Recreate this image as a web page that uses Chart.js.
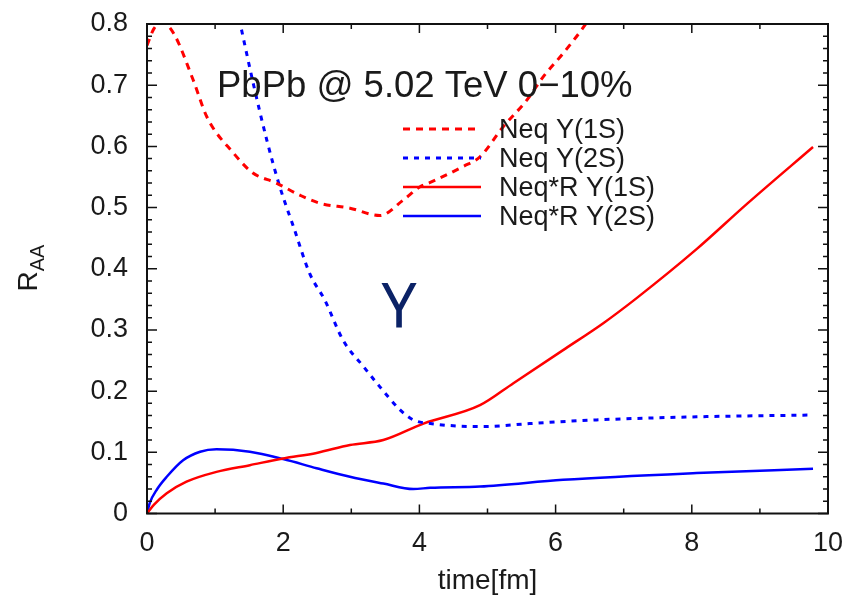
<!DOCTYPE html>
<html>
<head>
<meta charset="utf-8">
<script src="https://cdn.jsdelivr.net/npm/chart.js@4.4.1/dist/chart.umd.min.js"></script>
<style>
  html, body { margin: 0; padding: 0; background: #fff; }
  canvas { display: block; }
</style>
</head>
<body>
<canvas id="grafico" width="860" height="600"></canvas>
<script>
// Datos (tiempo en fm, R_AA)
const etiquetas = ["Neq Y(1S)", "Neq Y(2S)", "Neq*R Y(1S)", "Neq*R Y(2S)"];

const neq1sX = [0, 0.1, 0.22, 0.39, 0.68, 0.88, 1.27, 1.55, 1.9, 2.25, 2.54, 2.98, 3.42, 3.76, 4.01, 4.16, 4.64, 4.89, 5.23, 5.58, 5.82, 6.11, 6.43, 6.5];
const neq1sY = [0.765, 0.792, 0.803, 0.785, 0.708, 0.648, 0.589, 0.557, 0.54, 0.52, 0.507, 0.499, 0.487, 0.512, 0.534, 0.541, 0.567, 0.583, 0.632, 0.676, 0.714, 0.752, 0.798, 0.81];

const neq2sX = [1.32, 1.37, 1.56, 1.76, 1.95, 2.15, 2.39, 2.61, 2.88, 3.18, 3.42, 3.72, 3.91, 4.16, 4.94, 5.62, 6.6, 8.07, 9.78];
const neq2sY = [0.826, 0.8, 0.703, 0.61, 0.534, 0.469, 0.392, 0.349, 0.283, 0.24, 0.207, 0.169, 0.153, 0.147, 0.142, 0.147, 0.153, 0.158, 0.161];

const neqR1sX = [0, 0.1, 0.29, 0.58, 1.02, 1.51, 2.0, 2.49, 2.98, 3.47, 4.06, 4.89, 5.38, 6.11, 6.7, 7.19, 8.07, 8.81, 9.78];
const neqR1sY = [0, 0.014, 0.033, 0.052, 0.068, 0.079, 0.09, 0.099, 0.112, 0.12, 0.147, 0.177, 0.213, 0.267, 0.311, 0.352, 0.432, 0.506, 0.599];

const neqR2sX = [0, 0.04, 0.15, 0.29, 0.53, 0.78, 1.02, 1.51, 2.0, 2.49, 2.98, 3.47, 3.91, 4.16, 4.89, 6.11, 8.07, 9.78];
const neqR2sY = [0, 0.017, 0.04, 0.06, 0.087, 0.101, 0.105, 0.101, 0.089, 0.074, 0.06, 0.049, 0.04, 0.042, 0.044, 0.055, 0.066, 0.073];

const titulo = "PbPb @ 5.02 TeV 0\u221210%";
const simbolo = "\u03A5";

const FUENTE = '"Liberation Sans", Arial, sans-serif';

function puntos(xs, ys) {
    return xs.map((x, i) => ({ x: x, y: ys[i] }));
}

// Marco, ticks hacia adentro, leyenda y textos sobre el area
const decorado = {
    id: 'decorado',
    afterDraw(chart) {
        const ctx = chart.ctx;
        const a = chart.chartArea;
        const sx = chart.scales.x;
        const sy = chart.scales.y;
        ctx.save();

        // ticks
        ctx.strokeStyle = '#111';
        ctx.lineWidth = 1.5;
        ctx.beginPath();
        for (let i = 0; i <= 10; i++) {
            const px = sx.getPixelForValue(i);
            const len = i % 2 === 0 ? 9 : 5;
            ctx.moveTo(px, a.bottom); ctx.lineTo(px, a.bottom - len);
            ctx.moveTo(px, a.top); ctx.lineTo(px, a.top + len);
        }
        for (let i = 0; i <= 40; i++) {
            const py = sy.getPixelForValue(i * 0.02);
            const len = i % 5 === 0 ? 10 : 5;
            ctx.moveTo(a.left, py); ctx.lineTo(a.left + len, py);
            ctx.moveTo(a.right, py); ctx.lineTo(a.right - len, py);
        }
        ctx.stroke();

        // marco
        ctx.lineWidth = 2;
        ctx.strokeRect(a.left, a.top, a.right - a.left, a.bottom - a.top);

        // titulo interior
        ctx.fillStyle = '#1a1a1a';
        ctx.font = '36.5px ' + FUENTE;
        ctx.textAlign = 'left';
        ctx.textBaseline = 'alphabetic';
        ctx.fillText(titulo, 217, 97);

        // leyenda
        ctx.font = '27px ' + FUENTE;
        chart.data.datasets.forEach((ds, i) => {
            const base = 138 + i * 29;
            ctx.strokeStyle = ds.borderColor;
            ctx.lineWidth = ds.borderWidth;
            ctx.setLineDash(ds.borderDash || []);
            ctx.beginPath();
            ctx.moveTo(403, base - 9);
            ctx.lineTo(481, base - 9);
            ctx.stroke();
            ctx.setLineDash([]);
            ctx.fillStyle = '#1a1a1a';
            ctx.fillText(ds.label, 499, base);
        });

        // simbolo grande
        ctx.fillStyle = '#0b2266';
        ctx.font = '62px "Noto Sans", sans-serif';
        ctx.textAlign = 'center';
        ctx.fillText(simbolo, 399, 327);

        // titulo eje Y: R_AA
        ctx.translate(37, 268);
        ctx.rotate(-Math.PI / 2);
        ctx.fillStyle = '#1a1a1a';
        ctx.textAlign = 'left';
        ctx.font = '20px ' + FUENTE;
        const wAA = ctx.measureText('AA').width;
        ctx.font = '28px ' + FUENTE;
        const wR = ctx.measureText('R').width;
        const x0 = -(wR + wAA) / 2;
        ctx.fillText('R', x0, 0);
        ctx.font = '20px ' + FUENTE;
        ctx.fillText('AA', x0 + wR, 7);

        ctx.restore();
    }
};

const fondo = {
    id: 'fondo',
    beforeDraw(chart) {
        const ctx = chart.ctx;
        ctx.save();
        ctx.fillStyle = '#fff';
        ctx.fillRect(0, 0, chart.width, chart.height);
        ctx.restore();
    }
};

document.addEventListener("DOMContentLoaded", () => {
    const ctx = document.getElementById('grafico').getContext('2d');

    new Chart(ctx, {
        type: 'line',
        data: {
            datasets: [
                {
                    label: etiquetas[0],
                    data: puntos(neq1sX, neq1sY),
                    borderColor: '#ff0000',
                    borderWidth: 3,
                    borderDash: [7, 6]
                },
                {
                    label: etiquetas[1],
                    data: puntos(neq2sX, neq2sY),
                    borderColor: '#0000ff',
                    borderWidth: 3,
                    borderDash: [5, 6]
                },
                {
                    label: etiquetas[2],
                    data: puntos(neqR1sX, neqR1sY),
                    borderColor: '#ff0000',
                    borderWidth: 2.5
                },
                {
                    label: etiquetas[3],
                    data: puntos(neqR2sX, neqR2sY),
                    borderColor: '#0000ff',
                    borderWidth: 2.5
                }
            ]
        },
        options: {
            responsive: false,
            animation: false,
            devicePixelRatio: 1,
            layout: { padding: { left: 0, right: 32, top: 24, bottom: 0 } },
            elements: {
                point: { radius: 0 },
                line: { cubicInterpolationMode: 'monotone', fill: false }
            },
            plugins: {
                legend: { display: false },
                tooltip: { enabled: false }
            },
            scales: {
                x: {
                    type: 'linear',
                    min: 0,
                    max: 10,
                    ticks: {
                        stepSize: 2,
                        padding: 14,
                        color: '#1a1a1a',
                        font: { family: FUENTE, size: 27 }
                    },
                    grid: { display: false, drawTicks: false },
                    border: { display: false },
                    title: {
                        display: true,
                        text: 'time[fm]',
                        color: '#1a1a1a',
                        font: { family: FUENTE, size: 28 },
                        padding: { top: 0, bottom: 2 }
                    },
                    afterFit: s => {
                        s.height = 86.5;
                        s.paddingLeft = 0;
                        s.paddingRight = 0;
                    }
                },
                y: {
                    min: 0,
                    max: 0.8,
                    ticks: {
                        stepSize: 0.1,
                        padding: 19,
                        color: '#1a1a1a',
                        font: { family: FUENTE, size: 27 }
                    },
                    grid: { display: false, drawTicks: false },
                    border: { display: false },
                    afterFit: s => {
                        s.width = 147;
                        s.paddingTop = 0;
                        s.paddingBottom = 0;
                    }
                }
            }
        },
        plugins: [fondo, decorado]
    });
});
</script>
</body>
</html>
